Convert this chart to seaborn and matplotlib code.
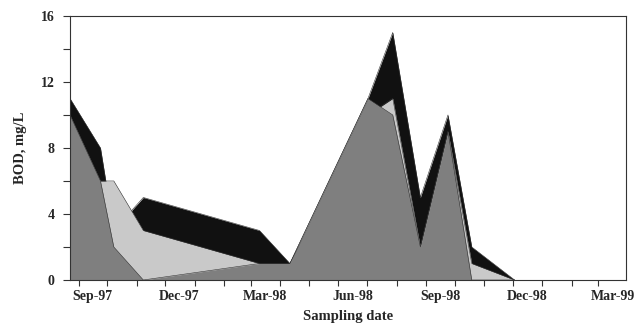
import matplotlib
matplotlib.use("Agg")
import matplotlib.pyplot as plt
import matplotlib.dates as mdates
import seaborn as sns
import pandas as pd

# Sampling dates
dates = ["1997-08-23", "1997-09-24", "1997-10-08", "1997-11-08", "1998-03-10",
         "1998-04-11", "1998-07-02", "1998-07-28", "1998-08-26", "1998-09-24",
         "1998-10-19", "1998-12-03"]
# BOD values, mg/L (three overlapping series: back, middle, front)
bod_back = [11, 8, 3, 5, 3, 1, 11, 15, 5, 10, 2, 0]     # black
bod_mid = [0, 6, 6, 3, 1, 1, 10, 11, 2, 9, 1, 0]        # light gray
bod_front = [10, 6, 2, 0, 1, 1, 11, 10, 2, 9, 0, 0]     # dark gray

month_labels = ["Sep-97", "Dec-97", "Mar-98", "Jun-98", "Sep-98", "Dec-98", "Mar-99"]
label_dates = ["1997-09-16", "1997-12-16", "1998-03-16", "1998-06-16",
               "1998-09-16", "1998-12-16", "1999-03-16"]
y_ticks = [0, 4, 8, 12, 16]

sns.set_style("ticks")
plt.rcParams["font.family"] = ["Liberation Serif", "DejaVu Serif"]
plt.rcParams["font.weight"] = "bold"

df = pd.DataFrame({
    "date": pd.to_datetime(dates),
    "back": bod_back,
    "mid": bod_mid,
    "front": bod_front,
})

fig = plt.figure(figsize=(6.37, 3.29), dpi=100)
ax = fig.add_axes([0.1099, 0.149, 0.8728, 0.8025])

colors = {"back": "#111111", "mid": "#c9c9c9", "front": "#7f7f7f"}
for i, col in enumerate(["back", "mid", "front"]):
    z = 2 + i
    ax.fill_between(df["date"], 0, df[col], color=colors[col], linewidth=0, zorder=z)
    sns.lineplot(data=df, x="date", y=col, ax=ax, color="#333333", linewidth=0.4,
                 zorder=z + 0.5, legend=False)

ax.set_xlim(pd.Timestamp("1997-08-23"), pd.Timestamp("1999-03-30"))
ax.set_ylim(0, 16)

ax.set_yticks(y_ticks)
ax.set_yticklabels([str(v) for v in y_ticks])
ax.set_yticks([2, 6, 10, 14], minor=True)

ax.set_xticks(pd.to_datetime(label_dates))
ax.set_xticklabels(month_labels)
ax.xaxis.set_minor_locator(mdates.MonthLocator())

ax.tick_params(axis="x", which="major", length=0, pad=7, labelsize=10)
ax.tick_params(axis="x", which="minor", length=4, width=0.8, direction="out", color="#333333")
ax.tick_params(axis="y", which="both", length=5, width=0.8, direction="out",
               color="#333333", labelsize=10, pad=6)

for s in ax.spines.values():
    s.set_linewidth(0.8)
    s.set_color("#333333")
    s.set_zorder(10)

ax.set_xlabel("Sampling date", fontsize=10.5, fontweight="bold", labelpad=5)
ax.set_ylabel("BOD, mg/L", fontsize=10.5, fontweight="bold", labelpad=10)

fig.savefig("out.png", dpi=100)
